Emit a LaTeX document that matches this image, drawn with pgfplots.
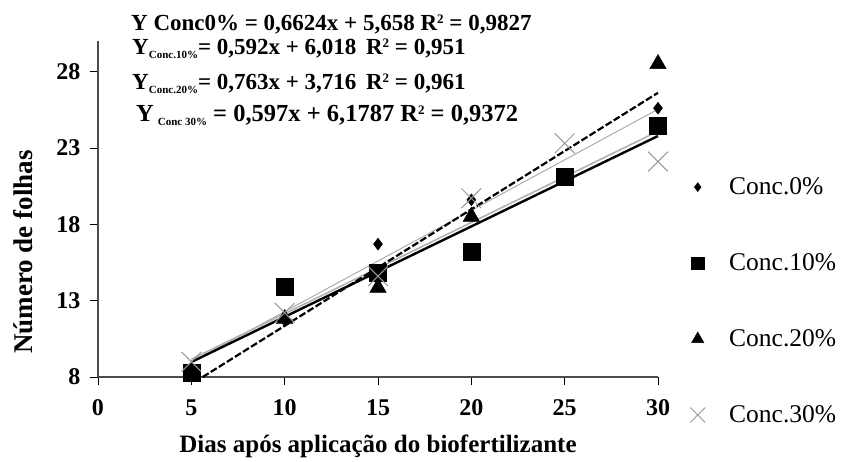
\documentclass[border=0pt]{standalone}
\usepackage{pgfplots}
\pgfplotsset{compat=1.18}
\usepackage{fontspec}
\setmainfont{Liberation Serif}
\newcommand{\sub}[1]{\raisebox{-0.35ex}{\fontsize{11}{11}\selectfont #1}}
\newcommand{\sq}{\raisebox{0.7ex}{\fontsize{13}{13}\selectfont 2}}
\begin{document}
\begin{tikzpicture}
\useasboundingbox (-98pt,-85pt) rectangle (745pt,377pt);
\begin{axis}[
 scale only axis, width=560pt, height=336pt,
 xmin=0, xmax=30, ymin=8, ymax=30,
 xtick={0,5,...,30}, ytick={8,13,18,23,28},
 axis lines=left, axis line style={gray!60!black, line width=1.3pt, -},
 tick align=outside, major tick length=8pt, tick style={black, line width=0.8pt},
 /pgf/number format/assume math mode=true,
 ticklabel style={font=\fontsize{24}{24}\selectfont\bfseries},
 xticklabel style={yshift=-11pt},
 yticklabel style={xshift=-6pt},
 xlabel={Dias após aplicação do biofertilizante},
 ylabel={Número de folhas},
 xlabel style={font=\fontsize{25}{25}\selectfont\bfseries, at={(axis description cs:0.5,-0.205)}, anchor=center},
 ylabel style={font=\fontsize{27}{27}\selectfont\bfseries, at={(axis description cs:-0.134,0.372)}, anchor=center},
 clip=false,
 legend style={draw=none, fill=none, at={(axis description cs:1.052,0.605)}, anchor=north west,
   font=\fontsize{25.5}{25.5}\selectfont, row sep=53.5pt},
 legend image post style={scale=0.75},
 legend cell align=left,
]
% trend lines (endpoints from the fitted equations)
\addplot[gray!70, line width=0.9pt, forget plot] coordinates {(5,8.97) (30,25.53)};
\addplot[gray!60, line width=1.6pt, forget plot] coordinates {(5,9.16) (30,24.09)};
\addplot[black, line width=2.4pt, forget plot] coordinates {(5,8.98) (30,23.78)};
\addplot[black, line width=2.2pt, dash pattern=on 7pt off 2.5pt, forget plot] coordinates {(5.61,8) (30,26.61)};
% data
\addplot[only marks, mark=diamond*, mark size=6pt, black] coordinates {(5,8.6) (10,11.7) (15,16.7) (20,19.6) (25,21.0) (30,25.6)};
\addplot[only marks, mark=square*, mark size=8.5pt, black] coordinates {(5,8.3) (10,13.9) (15,14.8) (20,16.2) (25,21.1) (30,24.45)};
\addplot[only marks, mark=triangle*, mark size=9.5pt, black] coordinates {(5,8.4) (10,11.8) (15,13.85) (20,18.5) (25,21.0) (30,28.5)};
\addplot[only marks, mark=x, mark size=14pt, gray!80, mark options={line width=1pt}] coordinates {(5,9.0) (10,12.2) (15,14.6) (20,19.7) (25,23.3) (30,22.1)};
\legend{\hspace{22pt}Conc.0\%, \hspace{22pt}Conc.10\%, \hspace{22pt}Conc.20\%, \hspace{22pt}Conc.30\%}
\end{axis}
\begin{scope}[every node/.style={anchor=base west, inner sep=0pt, font=\fontsize{23}{23}\selectfont\bfseries}]
\node at (33pt,346pt) {Y Conc0\% = 0,6624x + 5,658 R\sq{} = 0,9827};
\node at (34pt,322pt) {Y\sub{Conc.10\%}= 0,592x + 6,018 \,R\sq{} = 0,951};
\node at (34pt,287pt) {Y\sub{Conc.20\%}= 0,763x + 3,716 \,R\sq{} = 0,961};
\node[font=\fontsize{24.5}{24.5}\selectfont\bfseries] at (38pt,255pt) {Y\hspace{4pt}\sub{Conc 30\%} = 0,597x + 6,1787 R\sq{} = 0,9372};
\end{scope}
\end{tikzpicture}
\end{document}
